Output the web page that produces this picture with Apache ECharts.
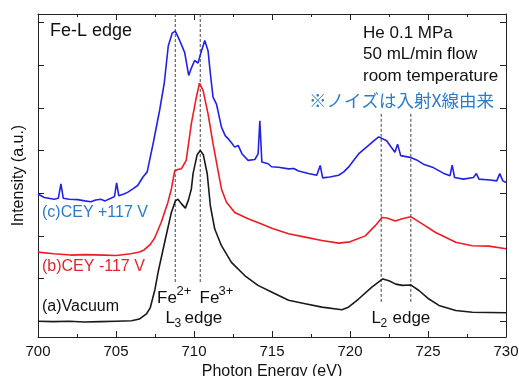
<!DOCTYPE html>
<html>
<head>
<meta charset="utf-8">
<script src="https://cdn.jsdelivr.net/npm/echarts@6/dist/echarts.min.js"></script>
<style>
html,body{margin:0;padding:0;background:#fff;}
#chart{width:519px;height:376px;}
</style>
</head>
<body>
<div id="chart"></div>
<script>
// ---- data ----
const vacuumX = [700,701,702,703,704,705,706,706.5,706.95,707.2,707.5,707.7,708.12,708.55,708.81,708.97,709.2,709.45,709.65,709.83,709.94,710.2,710.4,710.6,710.85,711.05,711.33,711.76,712.4,713.25,714.1,715.0,716.06,717.13,718.2,719.48,719.9,720.55,721.4,722.1,722.5,722.93,723.35,723.89,724.42,725.06,725.7,726.78,727.84,730];
const vacuumY = [0.0,-0.01,0.0,-0.02,-0.01,0.0,0.01,0.05,0.17,0.32,0.75,1.15,1.85,2.55,2.82,2.86,2.75,2.65,2.85,3.10,3.46,3.9,4.0,3.9,3.45,2.7,2.16,1.77,1.38,1.07,0.84,0.68,0.49,0.41,0.33,0.27,0.33,0.52,0.80,0.99,0.95,0.87,0.84,0.85,0.72,0.52,0.37,0.25,0.21,0.20];

const cneqX = [700,701,702.1,703,704.25,705,705.96,706.5,706.8,707.2,707.48,707.9,708.33,708.55,708.76,709.0,709.19,709.5,709.83,710.15,710.35,710.58,710.9,711.22,711.54,711.76,712.08,712.61,713.47,714.33,714.99,716.06,717.13,718.2,719.27,720.0,720.98,721.62,722.05,722.37,722.9,723.35,723.89,724.63,725.49,726.78,727.84,728.9,730];
const cneqY = [1.62,1.58,1.55,1.56,1.55,1.54,1.58,1.62,1.67,1.80,1.95,2.32,2.79,3.10,3.52,3.56,3.57,3.77,4.63,5.25,5.58,5.41,4.86,4.16,3.53,3.10,2.79,2.55,2.40,2.28,2.18,2.05,1.97,1.89,1.83,1.86,2.0,2.24,2.43,2.42,2.35,2.40,2.45,2.28,2.08,1.85,1.77,1.76,1.70];

const cposX = [700.0,700.4,701.04,701.3,701.47,701.62,702.0,702.54,703.0,703.39,703.7,704.03,704.3,704.67,704.9,705.04,705.18,705.5,705.74,706.08,706.39,706.73,707.0,707.4,707.8,708.1,708.35,708.6,708.8,709.08,709.2,709.4,709.66,709.85,710.04,710.26,710.45,710.69,710.9,711.05,711.22,711.44,711.76,712.0,712.18,712.4,712.61,712.83,713.08,713.47,713.9,714.11,714.22,714.35,714.75,714.97,715.42,716.06,716.4,716.7,717.34,717.87,718.09,718.25,718.7,719.27,719.6,719.9,720.55,721.19,721.5,721.84,721.95,722.35,722.6,722.88,723.05,723.25,723.85,724.27,724.7,725.34,725.98,726.41,726.55,726.7,727.27,727.91,728.1,728.27,728.98,729.41,729.6,729.8,730.0];
const cposY = [2.98,2.90,2.86,2.88,3.22,2.88,2.86,2.85,2.82,2.80,2.84,2.86,2.82,2.88,2.92,3.24,2.94,2.98,3.02,3.10,3.18,3.38,3.5,4.2,4.95,5.6,6.45,6.75,6.80,6.58,6.55,6.30,5.76,5.95,6.11,6.05,6.3,6.58,6.34,5.8,5.25,5.09,4.55,4.35,4.28,4.18,4.08,4.12,3.92,3.77,3.79,3.92,4.70,3.73,3.69,3.62,3.61,3.57,3.58,3.52,3.46,3.42,3.65,3.36,3.38,3.42,3.50,3.61,3.92,4.12,4.22,4.32,4.35,4.23,4.10,3.96,4.15,3.88,3.84,3.78,3.68,3.60,3.47,3.41,3.66,3.37,3.33,3.37,3.46,3.33,3.31,3.29,3.46,3.29,3.25];

const edgeX = [708.8, 710.4, 722.0, 723.9];
const edgeTop = [7.2, 7.2, 4.86, 4.86];
const edgeBottom = [0.87, 0.87, 0.44, 0.44];

const xTicks = [700,705,710,715,720,725,730];
const yTicks = [0,1,2,3,4,5,6,7];

// ---- chart ----
const FONT = '"Liberation Sans", Arial, Helvetica, sans-serif';
const JFONT = '"Noto Sans CJK JP", "Noto Sans", sans-serif';
const pairs = (xs, ys) => xs.map((x, i) => [x, ys[i]]);

const chart = echarts.init(document.getElementById('chart'), null, {renderer: 'canvas'});

const baseX = {
  type: 'value', min: xTicks[0], max: xTicks[xTicks.length - 1], interval: 5,
  axisLine: {show: true, onZero: false, lineStyle: {color: '#222', width: 1}},
  axisTick: {show: true, inside: true, length: 6, lineStyle: {color: '#222'}},
  minorTick: {show: true, splitNumber: 2, length: 3, lineStyle: {color: '#222'}},
  splitLine: {show: false}
};
const baseY = {
  type: 'value', min: -0.37, max: 7.2,
  axisLine: {show: true, onZero: false, lineStyle: {color: '#222', width: 1}},
  axisTick: {show: true, inside: true, length: 6, customValues: yTicks, lineStyle: {color: '#222'}},
  axisLabel: {show: false},
  splitLine: {show: false}
};

const lineSeries = (name, xs, ys, color) => ({
  name, type: 'line', data: pairs(xs, ys), showSymbol: false, symbol: 'none',
  lineStyle: {color, width: 1.6}, animation: false, z: 3
});

const dashSeries = edgeX.map((x, i) => ({
  type: 'line', data: [[x, edgeTop[i]], [x, edgeBottom[i]]], symbol: 'none',
  lineStyle: {color: '#444', width: 1, type: [3, 2]}, animation: false, z: 2, silent: true
}));

function txt(x, y, text, size, color, opts) {
  return Object.assign({
    type: 'text', x, y, z: 10,
    style: Object.assign({text, fill: color, font: size + 'px ' + FONT, textAlign: 'left', textVerticalAlign: 'middle'}, opts || {})
  });
}

const graphics = [
  txt(50, 31, 'Fe-L edge', 18, '#111'),
  txt(363, 33, 'He 0.1 MPa', 17, '#111'),
  txt(363, 54.5, '50 mL/min flow', 17, '#111'),
  txt(363, 76, 'room temperature', 17, '#111'),
  {type: 'text', x: 309, y: 100, z: 10, style: {text: '※ノイズは入射X線由来', fill: '#2a7cc9', font: '17.5px ' + JFONT, textAlign: 'left', textVerticalAlign: 'middle'}},
  txt(42, 213, '(c)CEY +117 V', 16, '#2a7cc9'),
  txt(42, 267, '(b)CEY -117 V', 16, '#e0262a'),
  txt(42, 307, '(a)Vacuum', 16, '#111'),
  txt(157, 298.5, 'Fe', 17, '#111'),
  txt(176.5, 291.5, '2+', 13, '#111'),
  txt(199.5, 298.5, 'Fe', 17, '#111'),
  txt(218.5, 291.5, '3+', 13, '#111'),
  txt(165.5, 318.5, 'L', 17, '#111'),
  txt(174.5, 323.5, '3', 12, '#111'),
  txt(184.5, 318.5, 'edge', 17, '#111'),
  txt(371.5, 318.5, 'L', 17, '#111'),
  txt(380.5, 323.5, '2', 12, '#111'),
  txt(392.5, 318.5, 'edge', 17, '#111')
];

chart.setOption({
  animation: false,
  backgroundColor: '#fff',
  textStyle: {fontFamily: FONT},
  grid: {left: 38, top: 14, width: 468, height: 323, containLabel: false, outerBoundsMode: 'none'},
  xAxis: [
    Object.assign({}, baseX, {
      position: 'bottom',
      name: 'Photon Energy (eV)', nameLocation: 'middle', nameGap: 24,
      nameTextStyle: {fontSize: 16, color: '#111', fontFamily: FONT},
      axisLabel: {show: true, fontSize: 15, color: '#111', margin: 7, fontFamily: FONT}
    }),
    Object.assign({}, baseX, {position: 'top', axisLabel: {show: false}})
  ],
  yAxis: [
    Object.assign({}, baseY, {
      position: 'left',
      name: 'Intensity (a.u.)', nameLocation: 'middle', nameGap: 11,
      nameTextStyle: {fontSize: 16, color: '#111', fontFamily: FONT}
    }),
    Object.assign({}, baseY, {position: 'right'})
  ],
  series: [
    ...dashSeries,
    lineSeries('(a)Vacuum', vacuumX, vacuumY, '#1a1a1a'),
    lineSeries('(b)CEY -117 V', cneqX, cneqY, '#ee1c24'),
    lineSeries('(c)CEY +117 V', cposX, cposY, '#2222e6')
  ],
  graphic: graphics
});
</script>
</body>
</html>
